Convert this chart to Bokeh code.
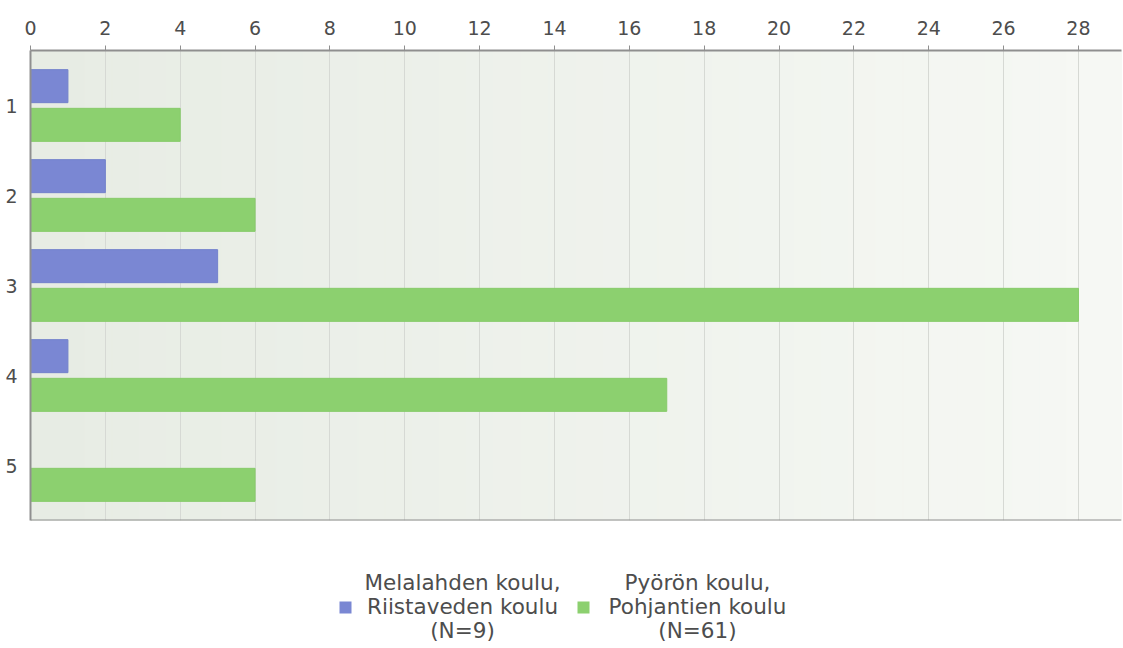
import numpy as np
from bokeh.plotting import figure
from bokeh.models import FixedTicker, Range1d, ColumnDataSource, Span
from bokeh.layouts import column
from bokeh.core.properties import value
from bokeh.embed import file_html
from bokeh.resources import INLINE

categories = [1, 2, 3, 4, 5]
cat_labels = ["1", "2", "3", "4", "5"]
series_names = ["Melalahden koulu,\nRiistaveden koulu\n(N=9)",
                "Pyörön koulu,\nPohjantien koulu\n(N=61)"]
blue_values = [1, 2, 5, 1, 0]
green_values = [4, 6, 28, 17, 6]
x_ticks = list(range(0, 30, 2))

FONT = "DejaVu Sans"
TXT = "#4d4d4d"
BLUE = "#7a87d3"
GREEN = "#8cd06f"
W = 1122
H_MAIN = 522
H_LEG = 124
FRAME_LEFT = 30
FRAME_RIGHT = W - 1

x_range = Range1d(0, 29.15)
y_range = Range1d(5.5 + 10 / 90, 0.5 - 10 / 90)

p = figure(width=W, height=H_MAIN, output_backend="svg", toolbar_location=None,
           x_axis_location="above", y_range=y_range, x_range=x_range,
           min_border_left=FRAME_LEFT, min_border_right=W - FRAME_RIGHT,
           min_border_top=50, min_border_bottom=2)
p.background_fill_color = "#eff2ec"
p.outline_line_color = None
p.border_fill_color = "white"

# subtle horizontal background gradient (decoration derived from the x range)
n_strips = 40
edges = np.linspace(x_range.start, x_range.end, n_strips + 1)
c0 = np.array([0xe7, 0xec, 0xe4])
c1 = np.array([0xf6, 0xf8, 0xf4])
cols = ["#%02x%02x%02x" % tuple(np.round(c0 + (c1 - c0) * t).astype(int))
        for t in np.linspace(0, 1, n_strips)]
p.quad(left=edges[:-1], right=edges[1:], bottom=y_range.start, top=y_range.end,
       fill_color=cols, line_color=cols, line_width=1, level="underlay")

src_b = ColumnDataSource(dict(y=[c - 0.215 for c in categories], v=blue_values))
src_g = ColumnDataSource(dict(y=[c + 0.215 for c in categories], v=green_values))
p.hbar(y="y", right="v", left=0, height=0.367, source=src_b,
       fill_color=BLUE, line_color="#7382cc", line_width=1)
p.hbar(y="y", right="v", left=0, height=0.367, source=src_g,
       fill_color=GREEN, line_color="#87cb6a", line_width=1)

xa = p.xaxis[0]
xa.ticker = FixedTicker(ticks=x_ticks)
xa.major_label_text_font = FONT
xa.major_label_text_font_size = "19px"
xa.major_label_text_color = TXT
xa.axis_line_color = "#8f8f8f"
xa.axis_line_width = 2
xa.major_tick_line_color = "#8f8f8f"
xa.major_tick_out = 5
xa.major_tick_in = 0
xa.minor_tick_line_color = None
xa.major_label_standoff = 11

ya = p.yaxis[0]
ya.ticker = FixedTicker(ticks=categories)
ya.major_label_overrides = {c: l for c, l in zip(categories, cat_labels)}
ya.major_label_text_font = FONT
ya.major_label_text_font_size = "19px"
ya.major_label_text_color = TXT
ya.axis_line_color = "#8f8f8f"
ya.axis_line_width = 2
ya.major_tick_line_color = None
ya.major_tick_out = 0
ya.major_tick_in = 0
ya.minor_tick_line_color = None
ya.major_label_standoff = 13

p.add_layout(Span(location=y_range.start, dimension="width",
                  line_color="#8f8f8f", line_width=2))

p.xgrid.grid_line_color = "#d6d9d4"
p.xgrid.ticker = FixedTicker(ticks=x_ticks)
p.ygrid.grid_line_color = None

# legend as its own small figure; its frame is aligned with the main frame,
# so its x range is expressed in page pixels across that frame
lg = figure(width=W, height=H_LEG, output_backend="svg", toolbar_location=None,
            x_range=Range1d(FRAME_LEFT, FRAME_RIGHT), y_range=Range1d(H_LEG, 0),
            x_axis_location=None, y_axis_location=None,
            min_border_left=FRAME_LEFT, min_border_right=W - FRAME_RIGHT,
            min_border_top=0, min_border_bottom=0, outline_line_color=None)
lg.grid.visible = False
lg.background_fill_color = "white"
lg.rect(x=[345, 583], y=[85, 85], width=12, height=12,
        width_units="screen", height_units="screen",
        fill_color=[BLUE, GREEN], line_color=None)
lg.text(x=[462, 697], y=[84, 84], text=series_names,
        text_align="center", text_baseline="middle",
        text_font=value(FONT), text_font_size="21.5px", text_color=TXT,
        text_line_height=0.95)

open("out.html", "w").write(file_html(column(p, lg, spacing=0), INLINE))
